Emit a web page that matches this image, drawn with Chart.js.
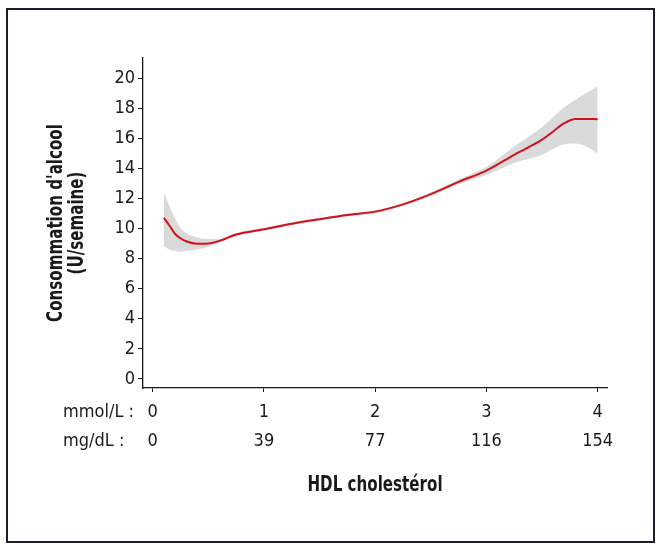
<!DOCTYPE html>
<html>
<head>
<meta charset="utf-8">
<script src="https://cdn.jsdelivr.net/npm/chart.js@4"></script>
<style>
  body { margin: 0; background: #fff; }
  #wrap { position: relative; width: 660px; height: 545px; }
  #frame { position: absolute; left: 6px; top: 8px; width: 645px; height: 531px; border: 2px solid #1b1f2b; }
  canvas { position: absolute; left: 0; top: 0; }
</style>
</head>
<body>
<div id="wrap">
  <div id="frame"></div>
  <canvas id="chart" width="660" height="545"></canvas>
</div>
<script>
// HDL cholesterol (mmol/L) sample positions
const hdl = [0.1, 0.15, 0.2, 0.25, 0.3, 0.4, 0.5, 0.6, 0.75, 1.0, 1.25, 1.5, 1.75,
  2.0, 2.25, 2.5, 2.75, 3.0, 3.25, 3.5, 3.6, 3.7, 3.8, 3.9, 4.0];
// alcohol consumption (U/week), fitted curve
const alcohol = [10.7, 10.2, 9.65, 9.35, 9.15, 8.98, 9.0, 9.18, 9.6, 9.95, 10.32, 10.62, 10.9,
  11.12, 11.6, 12.28, 13.1, 13.85, 14.9, 15.9, 16.45, 17.0, 17.28, 17.28, 17.26];
// confidence band
const upper = [12.4, 11.5, 10.7, 10.05, 9.7, 9.4, 9.3, 9.3, 9.7, 10.05, 10.4, 10.7, 10.98,
  11.2, 11.68, 12.38, 13.25, 14.1, 15.45, 16.75, 17.4, 18.05, 18.55, 19.0, 19.45];
const lower = [8.8, 8.6, 8.5, 8.45, 8.5, 8.6, 8.78, 9.05, 9.5, 9.85, 10.22, 10.52, 10.8,
  11.02, 11.5, 12.15, 12.95, 13.55, 14.35, 14.9, 15.3, 15.6, 15.65, 15.45, 14.98];

const xTicks = [0, 1, 2, 3, 4];
const mgTicks = ['0', '39', '77', '116', '154'];
const yTicks = [0, 2, 4, 6, 8, 10, 12, 14, 16, 18, 20];

const FONT = "'Liberation Sans Narrow', 'DejaVu Sans Condensed', 'Roboto', sans-serif";
const INK = '#1a1a1a';
const TICK_LEN = 4;
const TICK_PAD = 6;
const LINE_H = 29;
const SQUEEZE = 0.8; // titles are set in a tighter face than we have

const pts = arr => hdl.map((x, i) => ({ x: x, y: arr[i] }));

const labelsPlugin = {
  id: 'labels',
  afterDraw(chart) {
    const ctx = chart.ctx;
    const xs = chart.scales.x;
    const area = chart.chartArea;
    ctx.save();
    ctx.fillStyle = INK;
    // row captions for the two tick rows
    ctx.font = '18px ' + FONT;
    ctx.textAlign = 'left';
    ctx.textBaseline = 'middle';
    const rowTop = xs.top + TICK_LEN + TICK_PAD;
    ctx.fillText('mmol/L :', 63, rowTop + LINE_H / 2);
    ctx.fillText('mg/dL :', 63, rowTop + LINE_H * 1.5);
    ctx.font = 'bold 21px ' + FONT;
    ctx.textAlign = 'center';
    // x title
    ctx.save();
    ctx.translate((area.left + area.right) / 2, 486);
    ctx.scale(SQUEEZE, 1);
    ctx.fillText('HDL cholestérol', 0, 0);
    ctx.restore();
    // y title
    ctx.translate(57, (area.top + area.bottom) / 2);
    ctx.rotate(-Math.PI / 2);
    ctx.scale(SQUEEZE, 1);
    ctx.fillText("Consommation d'alcool", 0, 0);
    ctx.fillText('(U/semaine)', 0, 21);
    ctx.restore();
  }
};

new Chart(document.getElementById('chart'), {
  type: 'line',
  data: {
    datasets: [
      {
        data: pts(alcohol),
        borderColor: '#d0121b',
        borderWidth: 2,
        pointRadius: 0,
        fill: false,
        cubicInterpolationMode: 'monotone',
        order: 0
      },
      {
        data: pts(lower),
        borderWidth: 0,
        pointRadius: 0,
        fill: false,
        cubicInterpolationMode: 'monotone',
        order: 2
      },
      {
        data: pts(upper),
        borderWidth: 0,
        pointRadius: 0,
        backgroundColor: '#dadada',
        fill: 1,
        cubicInterpolationMode: 'monotone',
        order: 1
      }
    ]
  },
  options: {
    responsive: false,
    animation: false,
    layout: { padding: { left: 0, top: 58, right: 53, bottom: 0 } },
    plugins: { legend: { display: false }, tooltip: { enabled: false } },
    scales: {
      x: {
        type: 'linear',
        min: -0.087,
        max: 4.084,
        afterFit: s => { s.height = 545 - 58 - 330; },
        afterBuildTicks: s => { s.ticks = xTicks.map(v => ({ value: v })); },
        grid: { drawOnChartArea: false, drawTicks: true, tickLength: TICK_LEN, color: INK, lineWidth: 1 },
        border: { display: true, color: INK, width: 1.3 },
        ticks: {
          padding: TICK_PAD,
          color: INK,
          maxRotation: 0,
          font: { family: FONT, size: 18, lineHeight: LINE_H / 18 },
          callback: (v, i) => [String(xTicks[i]), mgTicks[i]]
        }
      },
      y: {
        min: -0.6,
        max: 21.33,
        afterFit: s => { s.width = 143; },
        afterBuildTicks: s => { s.ticks = yTicks.map(v => ({ value: v })); },
        grid: { drawOnChartArea: false, drawTicks: true, tickLength: 5, color: INK, lineWidth: 1 },
        border: { display: true, color: INK, width: 1.3 },
        ticks: {
          padding: 3,
          color: INK,
          font: { family: FONT, size: 18 }
        }
      }
    }
  },
  plugins: [labelsPlugin]
});
</script>
</body>
</html>
